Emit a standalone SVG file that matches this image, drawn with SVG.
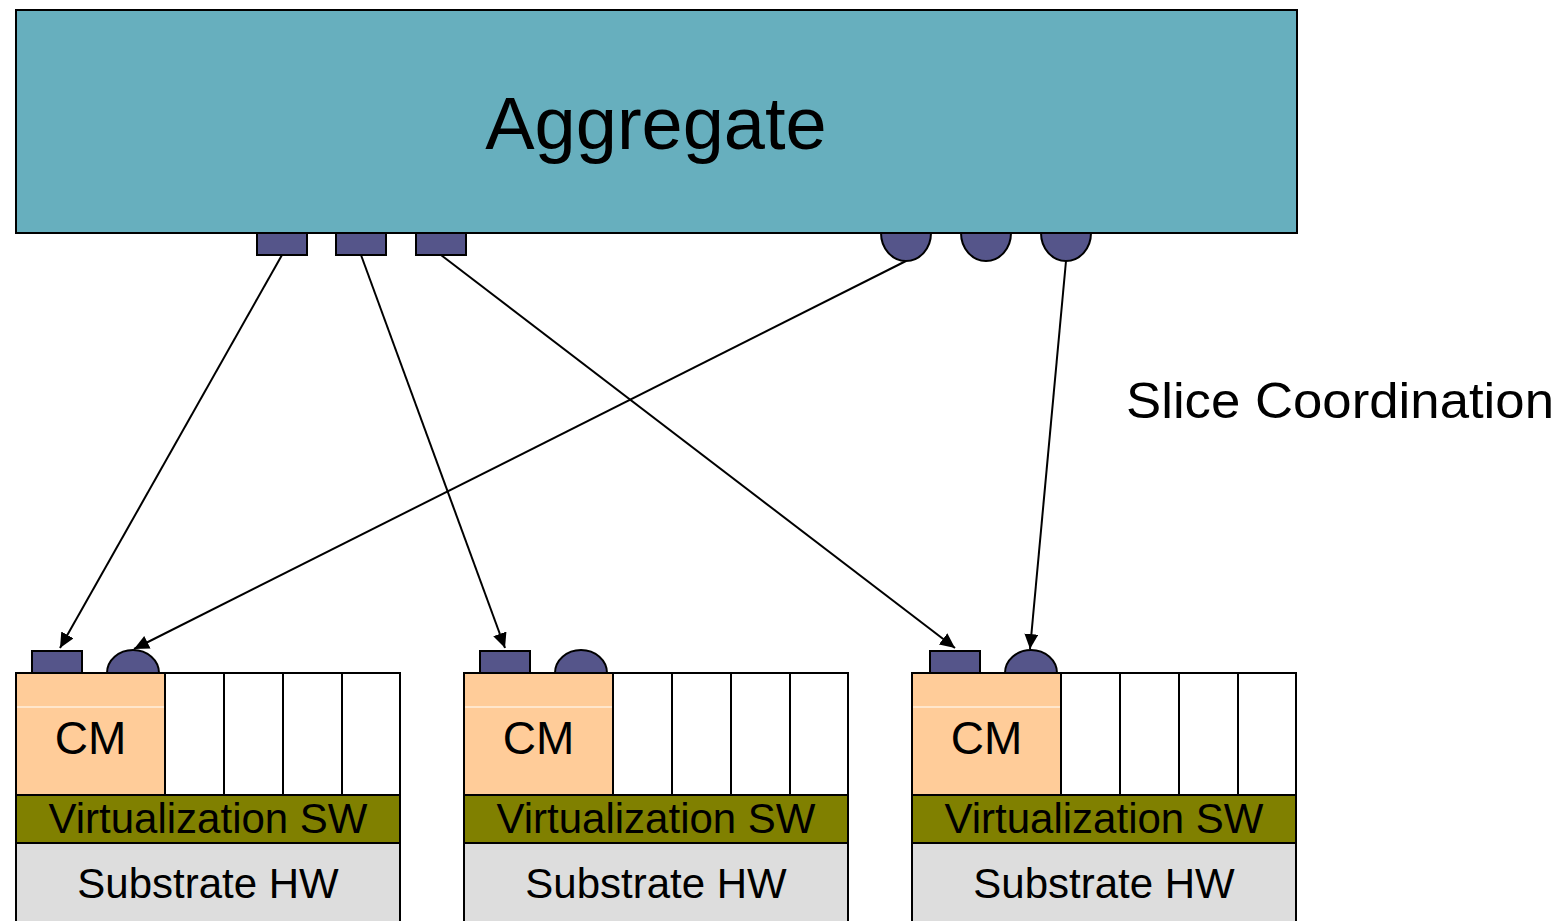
<svg xmlns="http://www.w3.org/2000/svg" width="1567" height="921" viewBox="0 0 1567 921">
<style>
.t{font-family:"Liberation Sans",Arial,sans-serif;fill:#000}
.port{fill:#55558A;stroke:#000;stroke-width:2}
.cm{fill:#FFCC99;stroke:#000;stroke-width:2}
.slot{fill:#fff;stroke:#000;stroke-width:2}
.virt{fill:#808000;stroke:#000;stroke-width:2}
.hw{fill:#DDDDDD;stroke:#000;stroke-width:2}
.conn{stroke:#000;stroke-width:2;fill:none;marker-end:url(#ah)}
</style>
<defs>
<marker id="ah" markerUnits="userSpaceOnUse" markerWidth="16" markerHeight="14" refX="15" refY="7" orient="auto">
<path d="M0,0 L15,7 L0,14 Z" fill="#000"/>
</marker>
<g id="ports">
<rect class="port" x="32" y="651" width="50" height="22"/>
<path class="port" d="M107,673 A26,23 0 0 1 159,673 Z"/>
</g>
<g id="node">
<rect class="cm" x="16" y="673" width="149" height="122"/>
<line x1="17" y1="707" x2="164" y2="707" stroke="#fff" stroke-width="1.2"/>
<rect class="slot" x="165" y="673" width="59" height="122"/>
<rect class="slot" x="224" y="673" width="59" height="122"/>
<rect class="slot" x="283" y="673" width="59" height="122"/>
<rect class="slot" x="342" y="673" width="58" height="122"/>
<rect class="virt" x="16" y="795" width="384" height="48"/>
<rect class="hw" x="16" y="843" width="384" height="85"/>
<text class="t" x="90.5" y="754" font-size="46" text-anchor="middle">CM</text>
<text class="t" x="208" y="833" font-size="42" text-anchor="middle">Virtualization SW</text>
<text class="t" x="208" y="898" font-size="42" text-anchor="middle">Substrate HW</text>
</g>
</defs>
<g id="aggregate">
<rect class="port" x="257" y="232" width="50" height="23"/>
<rect class="port" x="336" y="232" width="50" height="23"/>
<rect class="port" x="416" y="232" width="50" height="23"/>
<path class="port" d="M881,233 A25,28 0 0 0 931,233 Z"/>
<path class="port" d="M961,233 A25,28 0 0 0 1011,233 Z"/>
<path class="port" d="M1041,233 A25,28 0 0 0 1091,233 Z"/>
<rect x="16" y="10" width="1281" height="223" fill="#67AFBE" stroke="#000" stroke-width="2"/>
<text class="t" x="656" y="149" font-size="74" text-anchor="middle">Aggregate</text>
</g>
<g id="node1"><use href="#ports"/><use href="#node"/></g>
<g id="node2"><use href="#ports" x="448"/><use href="#node" x="448"/></g>
<g id="node3"><use href="#ports" x="898"/><use href="#node" x="896"/></g>
<g id="slice-label">
<text class="t" x="1126" y="418" font-size="50" textLength="428" lengthAdjust="spacingAndGlyphs">Slice Coordination</text>
</g>
<g id="connectors">
<line class="conn" x1="282" y1="255" x2="60" y2="648"/>
<line class="conn" x1="361" y1="255" x2="505" y2="648"/>
<line class="conn" x1="441" y1="255" x2="955" y2="648"/>
<line class="conn" x1="906" y1="261" x2="134" y2="649"/>
<line class="conn" x1="1066" y1="261" x2="1030" y2="649"/>
</g>
</svg>
